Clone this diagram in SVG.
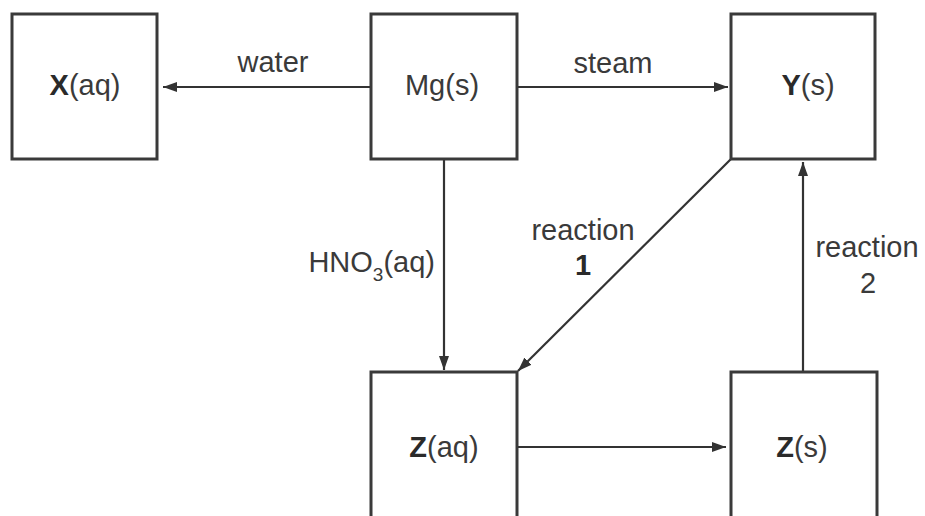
<svg xmlns="http://www.w3.org/2000/svg" width="925" height="516" viewBox="0 0 925 516">
<style>
.box{fill:#fff;stroke:#3a3a3a;stroke-width:3}
.t{font-family:"Liberation Sans",Arial,sans-serif;font-size:29px;fill:#3a3a3a}
.c{text-anchor:middle}
.b{font-weight:bold;fill:#2a2a2a}
.ln{stroke:#333;stroke-width:2.2;fill:none}
</style>
<defs>
<marker id="ah" viewBox="0 0 14 10" refX="14" refY="5" markerWidth="14" markerHeight="10" markerUnits="userSpaceOnUse" orient="auto">
<path d="M0,0 L14,5 L0,10 Z" fill="#333"/>
</marker>
</defs>
<rect width="925" height="516" fill="#fff"/>
<g id="connectors">
<line class="ln" x1="371" y1="87" x2="163" y2="87" marker-end="url(#ah)"/>
<line class="ln" x1="517" y1="87" x2="728" y2="87" marker-end="url(#ah)"/>
<line class="ln" x1="444" y1="159" x2="444" y2="370" marker-end="url(#ah)"/>
<line class="ln" x1="731" y1="159" x2="518" y2="371" marker-end="url(#ah)"/>
<line class="ln" x1="517" y1="447" x2="726" y2="447" marker-end="url(#ah)"/>
<line class="ln" x1="803" y1="372" x2="803" y2="162" marker-end="url(#ah)"/>
<text class="t c" x="273" y="72">water</text>
<text class="t c" x="613" y="73">steam</text>
<text class="t" x="435" y="272" text-anchor="end">HNO<tspan font-size="19" dy="9">3</tspan><tspan dy="-9">(aq)</tspan></text>
<text class="t c" x="583" y="240">reaction</text>
<text class="t c b" x="583" y="275">1</text>
<text class="t c" x="867" y="257">reaction</text>
<text class="t c" x="868" y="293">2</text>
</g>
<g id="X">
<rect class="box" x="12" y="14" width="145" height="145"/>
<text class="t c" x="85" y="95"><tspan class="b">X</tspan>(aq)</text>
</g>
<g id="Mg">
<rect class="box" x="371" y="14" width="146" height="145"/>
<text class="t c" x="442" y="95">Mg(s)</text>
</g>
<g id="Y">
<rect class="box" x="731" y="14" width="144" height="145"/>
<text class="t c" x="808" y="95"><tspan class="b">Y</tspan>(s)</text>
</g>
<g id="Zaq">
<rect class="box" x="371" y="372" width="146" height="170"/>
<text class="t c" x="444" y="457"><tspan class="b">Z</tspan>(aq)</text>
</g>
<g id="Zs">
<rect class="box" x="731" y="372" width="146" height="170"/>
<text class="t c" x="802" y="457"><tspan class="b">Z</tspan>(s)</text>
</g>
</svg>
